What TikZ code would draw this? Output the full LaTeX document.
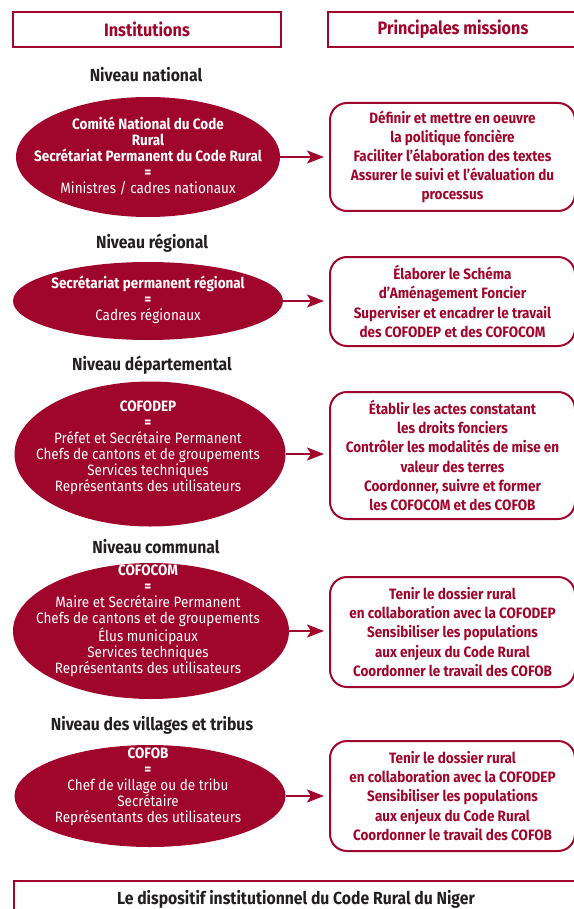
\documentclass[tikz,border=0pt]{standalone}
\usepackage{fontspec}
\setmainfont[FakeStretch=0.9]{Fira Sans}
\usepackage{tikz}
\usetikzlibrary{shapes.geometric,arrows.meta}
\definecolor{codered}{HTML}{A0062B}
\definecolor{levelgray}{HTML}{231F20}

\begin{document}
\begin{tikzpicture}[x=1pt, y=-1pt,
		header/.style={draw=codered, line width=2pt, minimum height=35, text=codered, font=\fontsize{18}{20}\selectfont\bfseries},
		level/.style={text=levelgray, font=\fontsize{17.5}{20}\selectfont\bfseries},
		inst/.style={ellipse, fill=codered, inner sep=0pt},
		insttext/.style={align=center, text=white, font=\fontsize{15}{16}\selectfont},
		mission/.style={draw=codered, line width=2pt, rounded corners=17pt, minimum width=245, align=center, text=codered, font=\fontsize{15}{19.2}\selectfont\bfseries},
		conn/.style={draw=codered, line width=2pt, -{Stealth[length=17pt, width=13pt, inset=4pt]}, shorten >=5pt}]
		\useasboundingbox (0, 0) rectangle (573, 909);

		\node[header, minimum width=268] at (147, 29.5) (hinst) {Institutions};
		\node[header, minimum width=250] at (453, 29.5) (hmis) {Principales missions};

		\node[level] at (146, 75) (lnat) {Niveau national};
		\node[inst, minimum width=264, minimum height=120] at (148, 157) (nat) {};
		\node[insttext] at (148, 156) (tnat) {\textbf{Comité National du Code}\\\textbf{Rural}\\\textbf{Secrétariat Permanent du Code Rural}\\\textbf{=}\\Ministres / cadres nationaux};
		\node[mission, minimum height=108] at (452.5, 157) (mnat) {Définir et mettre en oeuvre\\la politique foncière\\Faciliter l’élaboration des textes\\Assurer le suivi et l’évaluation du\\processus};

		\node[level] at (152, 243) (lreg) {Niveau régional};
		\node[inst, minimum width=270, minimum height=78] at (148, 301) (reg) {};
		\node[insttext] at (148, 300) (treg) {\textbf{Secrétariat permanent régional}\\\textbf{=}\\Cadres régionaux};
		\node[mission, minimum height=89] at (452.5, 301.5) (mreg) {Élaborer le Schéma\\d’Aménagement Foncier\\Superviser et encadrer le travail\\des COFODEP et des COFOCOM};

		\node[level] at (152, 365) (ldep) {Niveau départemental};
		\node[inst, minimum width=271, minimum height=145] at (150, 454) (dep) {};
		\node[insttext] at (148, 447.5) (tdep) {\textbf{COFODEP}\\\textbf{=}\\Préfet et Secrétaire Permanent\\Chefs de cantons et de groupements\\Services techniques\\Représentants des utilisateurs};
		\node[mission, minimum height=127] at (452.5, 455.5) (mdep) {Établir les actes constatant\\les droits fonciers\\Contrôler les modalités de mise en\\valeur des terres\\Coordonner, suivre et former\\les COFOCOM et des COFOB};

		\node[level] at (156, 547) (lcom) {Niveau communal};
		\node[inst, minimum width=276, minimum height=136] at (151, 631) (com) {};
		\node[insttext] at (148, 621) (tcom) {\textbf{COFOCOM}\\\textbf{=}\\Maire et Secrétaire Permanent\\Chefs de cantons et de groupements\\Élus municipaux\\Services techniques\\Représentants des utilisateurs};
		\node[mission, minimum height=110] at (452.5, 632) (mcom) {Tenir le dossier rural\\en collaboration avec la COFODEP\\Sensibiliser les populations\\aux enjeux du Code Rural\\Coordonner le travail des COFOB};

		\node[level] at (152, 725) (lvil) {Niveau des villages et tribus};
		\node[inst, minimum width=271, minimum height=102] at (150, 796) (vil) {};
		\node[insttext] at (148, 787) (tvil) {\textbf{COFOB}\\\textbf{=}\\Chef de village ou de tribu\\Secrétaire\\Représentants des utilisateurs};
		\node[mission, minimum height=110] at (452.5, 796) (mvil) {Tenir le dossier rural\\en collaboration avec la COFODEP\\Sensibiliser les populations\\aux enjeux du Code Rural\\Coordonner le travail des COFOB};

		\draw[conn] (nat.east) -- (nat.east -| mnat.west);
		\draw[conn] (reg.east) -- (reg.east -| mreg.west);
		\draw[conn] (dep.east) -- (dep.east -| mdep.west);
		\draw[conn] (com.east) -- (com.east -| mcom.west);
		\draw[conn] (vil.east) -- (vil.east -| mvil.west);

		\node[header, minimum width=564, minimum height=36, text=levelgray, font=\fontsize{17.5}{20}\selectfont\bfseries] at (296, 899) (title) {Le dispositif institutionnel du Code Rural du Niger};
	\end{tikzpicture}
\end{document}
